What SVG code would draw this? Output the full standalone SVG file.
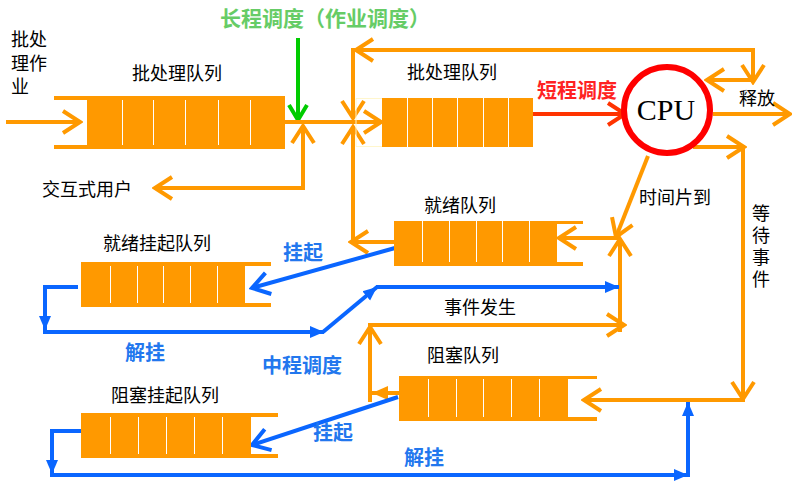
<svg xmlns="http://www.w3.org/2000/svg" width="792" height="483" viewBox="0 0 792 483">
<style>
.q{fill:#FF9900}
.dv{stroke:#FFFFFF;stroke-width:1}
.o{stroke:#FF9900;stroke-width:4;fill:none}
.b{stroke:#0A66FF;stroke-width:4;fill:none}
.t{font-family:"Noto Sans CJK SC","Noto Sans",sans-serif;fill:#000;font-size:18px}
.bt{font-family:"Noto Sans CJK SC","Noto Sans",sans-serif;fill:#2277EE;font-size:20px;font-weight:bold}
.m{text-anchor:middle}
</style>
<defs>
<marker id="ao" viewBox="0 0 22 26" refX="19" refY="13" markerWidth="22" markerHeight="26" orient="auto" markerUnits="userSpaceOnUse"><path d="M2,2 L19,13 L2,24" fill="none" stroke="#FF9900" stroke-width="4"/></marker>
<marker id="aof" viewBox="0 0 16 16" refX="16" refY="8" markerWidth="16" markerHeight="16" orient="auto" markerUnits="userSpaceOnUse"><path d="M0,1 L16,8 L0,15 z" fill="#FF9900"/></marker>
<marker id="ab" viewBox="0 0 22 26" refX="19" refY="13" markerWidth="22" markerHeight="26" orient="auto" markerUnits="userSpaceOnUse"><path d="M2,2 L19,13 L2,24" fill="none" stroke="#0A66FF" stroke-width="4"/></marker>
<marker id="abf" viewBox="0 0 14 14" refX="14" refY="7" markerWidth="14" markerHeight="14" orient="auto" markerUnits="userSpaceOnUse"><path d="M0,1 L14,7 L0,13 z" fill="#0A66FF"/></marker>
<marker id="ag" viewBox="0 0 20 22" refX="17" refY="11" markerWidth="20" markerHeight="22" orient="auto" markerUnits="userSpaceOnUse"><path d="M2,2 L17,11 L2,20" fill="none" stroke="#00CC00" stroke-width="4"/></marker>
<marker id="ar" viewBox="0 0 22 26" refX="19" refY="13" markerWidth="22" markerHeight="26" orient="auto" markerUnits="userSpaceOnUse"><path d="M2,2 L19,13 L2,24" fill="none" stroke="#FF3300" stroke-width="4"/></marker>
</defs>

<g id="connectors">
<line class="o" x1="6" y1="122" x2="80" y2="122" marker-end="url(#ao)"/>
<line x1="298" y1="38" x2="298" y2="120" stroke="#00CC00" stroke-width="4" marker-end="url(#ag)"/>
<line class="o" x1="285" y1="122" x2="381" y2="122" marker-end="url(#ao)"/>
<polyline class="o" points="303,188 303,126" marker-end="url(#ao)"/>
<line class="o" x1="305" y1="188" x2="155" y2="188" marker-end="url(#ao)"/>
<line class="o" x1="753" y1="80" x2="707" y2="80" marker-end="url(#ao)"/>
<line class="o" x1="753" y1="48" x2="753" y2="82" marker-end="url(#ao)"/>
<line class="o" x1="755" y1="50" x2="356" y2="50" marker-end="url(#ao)"/>
<line class="o" x1="353" y1="48" x2="353" y2="118" marker-end="url(#ao)"/>
<line class="o" x1="395" y1="242" x2="351" y2="242" marker-end="url(#ao)"/>
<line class="o" x1="353" y1="244" x2="353" y2="127" marker-end="url(#ao)"/>
<line x1="533" y1="114" x2="625" y2="114" stroke="#FF3300" stroke-width="4" marker-end="url(#ar)"/>
<line class="o" x1="713" y1="114" x2="790" y2="114" marker-end="url(#ao)"/>
<line class="o" x1="648" y1="156" x2="616" y2="237" marker-end="url(#ao)"/>
<line class="o" x1="620" y1="238" x2="559" y2="238" marker-end="url(#ao)"/>
<line class="o" x1="620" y1="332" x2="620" y2="239" marker-end="url(#ao)"/>
<line class="o" x1="370" y1="402" x2="370" y2="327" marker-end="url(#ao)"/>
<line class="o" x1="368" y1="325" x2="624" y2="325" marker-end="url(#ao)"/>
<line class="o" x1="400" y1="393" x2="372" y2="393" marker-end="url(#aof)"/>
<line class="o" x1="693" y1="147" x2="744" y2="147" marker-end="url(#ao)"/>
<line class="o" x1="743" y1="145" x2="743" y2="399" marker-end="url(#ao)"/>
<line class="o" x1="745" y1="400" x2="584" y2="400" marker-end="url(#ao)"/>
<line class="b" x1="395" y1="248" x2="252" y2="288" marker-end="url(#ab)"/>
<polyline class="b" points="78,287 45,287 45,330" marker-end="url(#abf)"/>
<line class="b" x1="43" y1="332" x2="324" y2="332" marker-end="url(#abf)"/>
<line class="b" x1="323" y1="332" x2="377" y2="287" marker-end="url(#abf)"/>
<line class="b" x1="376" y1="287" x2="619" y2="287" marker-end="url(#abf)"/>
<line class="b" x1="398" y1="397" x2="252" y2="445" marker-end="url(#ab)"/>
<polyline class="b" points="85,431 52,431 52,474" marker-end="url(#abf)"/>
<line class="b" x1="50" y1="475" x2="688" y2="475" marker-end="url(#abf)"/>
<line class="b" x1="688" y1="477" x2="688" y2="402" marker-end="url(#abf)"/>
</g>

<g id="batch-queue-1">
<rect class="q" x="87" y="96" width="198" height="53"/>
<rect class="q" x="54" y="96" width="33" height="4"/>
<rect class="q" x="54" y="145" width="33" height="4"/>
<path class="dv" d="M122.5,100V145M153.5,100V145M185.5,100V145M218.5,100V145M250.5,100V145"/>
<text class="t m" x="177" y="80">批处理队列</text>
</g>

<g id="batch-job">
<text class="t" font-size="16"><tspan x="11" y="46">批处</tspan><tspan x="11" y="69.5">理作</tspan><tspan x="11" y="93">业</tspan></text>
</g>

<g id="interactive-user">
<text class="t" x="42" y="196">交互式用户</text>
</g>

<g id="long-term">
<text x="325" y="26" class="m" font-family="Noto Sans CJK SC, sans-serif" font-size="21" font-weight="bold" fill="#66CC66">长程调度（作业调度）</text>
</g>

<g id="batch-queue-2">
<path d="M382,98.5H356V146.5H382" fill="none" stroke="#FFF6CC" stroke-width="1"/>
<rect class="q" x="382" y="98" width="151" height="49"/>
<path class="dv" d="M407.5,98V147M432.5,98V147M457.5,98V147M483.5,98V147M508.5,98V147"/>
<text class="t m" x="452" y="79">批处理队列</text>
</g>

<g id="short-term">
<text x="577" y="98" class="m" font-family="Noto Sans CJK SC, sans-serif" font-size="20" font-weight="bold" fill="#FF2222">短程调度</text>
</g>

<g id="cpu">
<circle cx="667" cy="110" r="43" fill="#FFFFFF" stroke="#FF0000" stroke-width="6"/>
<text x="666" y="120" class="m" font-family="Liberation Serif, serif" font-size="30" fill="#000">CPU</text>
</g>

<g id="labels">
<text class="t m" x="757" y="105">释放</text>
<text class="t m" x="675" y="204">时间片到</text>
<text class="t" x="761" y="204" style="writing-mode:vertical-rl;letter-spacing:4px">等待事件</text>
<text class="t m" x="480" y="314" font-size="16">事件发生</text>
<text class="bt m" x="303" y="260">挂起</text>
<text class="bt m" x="145" y="360">解挂</text>
<text class="bt m" x="302" y="373">中程调度</text>
<text class="bt m" x="333" y="440">挂起</text>
<text class="bt m" x="424" y="465">解挂</text>
</g>

<g id="ready-queue">
<rect class="q" x="394" y="221" width="163" height="45"/>
<rect class="q" x="557" y="221" width="26" height="3"/>
<rect class="q" x="557" y="262" width="26" height="4"/>
<path class="dv" d="M422.5,221V262M449.5,221V262M476.5,221V262M502.5,221V262M529.5,221V262"/>
<text class="t m" x="460" y="212">就绪队列</text>
</g>

<g id="ready-suspend-queue">
<rect class="q" x="81" y="262" width="164" height="45"/>
<rect class="q" x="245" y="262" width="26" height="4"/>
<rect class="q" x="245" y="303" width="26" height="4"/>
<path class="dv" d="M110.5,266V303M137.5,266V303M163.5,266V303M190.5,266V303M217.5,266V303"/>
<text class="t m" x="157" y="250">就绪挂起队列</text>
</g>

<g id="blocked-queue">
<rect class="q" x="399" y="376" width="169" height="45"/>
<rect class="q" x="568" y="376" width="29" height="3"/>
<rect class="q" x="568" y="417" width="29" height="4"/>
<path class="dv" d="M428.5,379V417M456.5,379V417M483.5,379V417M511.5,379V417M539.5,379V417"/>
<text class="t m" x="463" y="362">阻塞队列</text>
</g>

<g id="blocked-suspend-queue">
<rect class="q" x="81" y="413" width="170" height="45"/>
<rect class="q" x="251" y="413" width="27" height="4"/>
<rect class="q" x="251" y="454" width="27" height="4"/>
<path class="dv" d="M110.5,417V454M138.5,417V454M166.5,417V454M194.5,417V454M222.5,417V454"/>
<text class="t m" x="165" y="402">阻塞挂起队列</text>
</g>
</svg>
